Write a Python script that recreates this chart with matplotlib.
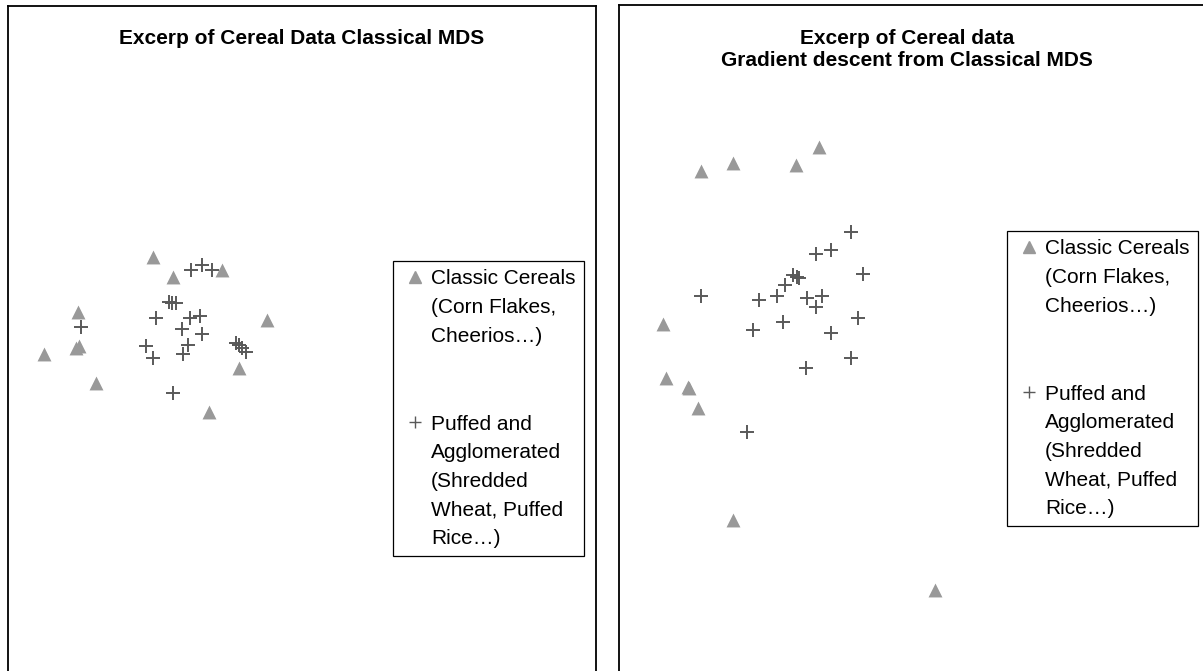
import matplotlib.pyplot as plt
from matplotlib.lines import Line2D

plt.rcParams['font.family'] = ['Liberation Sans', 'DejaVu Sans']

W, H = 1203, 671

# positions (pixel units, y grows downwards)
# left panel: classical MDS
cmds_classic_x = [153, 173, 222, 78, 79, 76, 44, 96, 267, 239, 209]
cmds_classic_y = [257, 277, 270, 312, 346, 348, 354, 383, 320, 368, 412]
cmds_puffed_x = [191, 202, 212, 169, 172, 176, 81, 156, 190, 200, 182,
                 202, 146, 153, 188, 183, 236, 239, 242, 246, 173]
cmds_puffed_y = [270, 265, 270, 302, 303, 303, 327, 318, 318, 316, 329,
                 334, 346, 358, 345, 354, 343, 345, 348, 352, 393]

# right panel: gradient descent started from classical MDS
gd_classic_x = [819, 733, 796, 701, 663, 666, 688, 689, 698, 733, 935]
gd_classic_y = [147, 163, 165, 171, 324, 378, 387, 388, 408, 520, 590]
gd_puffed_x = [851, 816, 831, 863, 793, 797, 799, 785, 701, 759, 777,
               807, 822, 816, 858, 753, 783, 831, 851, 806, 747]
gd_puffed_y = [232, 254, 250, 274, 275, 277, 278, 285, 296, 300, 296,
               298, 296, 307, 318, 330, 322, 333, 358, 368, 432]

classic_lines = ['Classic Cereals', '(Corn Flakes,', 'Cheerios…)']
puffed_lines = ['Puffed and', 'Agglomerated', '(Shredded', 'Wheat, Puffed', 'Rice…)']

title_left = 'Excerp of Cereal Data Classical MDS'
title_right = 'Excerp of Cereal data\nGradient descent from Classical MDS'

TRI_C = '#999999'
PLUS_C = '#595959'
FS = 15


def panel(rect, xlim, ylim):
    ax = fig.add_axes(rect)
    ax.set_xlim(*xlim)
    ax.set_ylim(*ylim)
    ax.set_xticks([])
    ax.set_yticks([])
    ax.spines['bottom'].set_visible(False)
    for s in ['left', 'top', 'right']:
        ax.spines[s].set_linewidth(1.3)
    return ax


def legend(ax, x0, y0):
    tri = Line2D([], [], ls='none', marker='^', ms=8.5, color=TRI_C, mec=TRI_C)
    plus = Line2D([], [], ls='none', marker='+', ms=9, mew=1.0, color=PLUS_C)
    blank = Line2D([], [], ls='none')
    handles = [tri, blank, blank, blank, plus] + [blank] * 4
    labels = classic_lines + [' '] + puffed_lines
    leg = ax.legend(handles, labels, loc='upper left', bbox_to_anchor=(x0, y0),
                    bbox_transform=ax.transData, borderaxespad=0, borderpad=0.4,
                    handlelength=1.31, handletextpad=0.12, labelspacing=0.46,
                    fancybox=False, framealpha=1, edgecolor='black',
                    prop={'size': FS})
    leg.get_frame().set_linewidth(0.9)
    # the blank row sets the gap between the two entries
    leg.get_texts()[3].set_fontsize(39)
    return leg


fig = plt.figure(figsize=(W / 100, H / 100), dpi=100)

ax1 = panel([7.5 / W, 0, 588 / W, (H - 5.5) / H], (7.5, 595.5), (H, 5.5))
ax1.scatter(cmds_classic_x, cmds_classic_y, marker='^', s=100, color=TRI_C, lw=0)
ax1.scatter(cmds_puffed_x, cmds_puffed_y, marker='+', s=90, color=PLUS_C, lw=1.4)
ax1.text(301.5, 38, title_left, ha='center', va='center', fontsize=15, fontweight='bold')
legend(ax1, 393, 261)

ax2 = panel([618.5 / W, 0, (1215 - 618.5) / W, (H - 4.5) / H], (618.5, 1215), (H, 4.5))
ax2.scatter(gd_classic_x, gd_classic_y, marker='^', s=100, color=TRI_C, lw=0)
ax2.scatter(gd_puffed_x, gd_puffed_y, marker='+', s=90, color=PLUS_C, lw=1.4)
ax2.text(907, 49, title_right, ha='center', va='center', fontsize=15,
         fontweight='bold', linespacing=1.2)
legend(ax2, 1007, 231)

fig.savefig('out.png', dpi=100)
